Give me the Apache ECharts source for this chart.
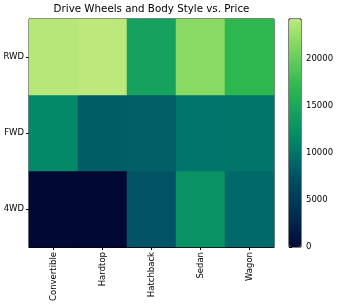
<!DOCTYPE html>
<html><head><meta charset="utf-8">
<script src="https://cdn.jsdelivr.net/npm/echarts@6/dist/echarts.min.js"></script>
<style>html,body{margin:0;padding:0;background:#fff}#c{width:339px;height:306px}</style>
</head><body><div id="c"></div>
<script>
const bodyStyles = ['Convertible','Hardtop','Hatchback','Sedan','Wagon'];
const driveWheels = ['4WD','FWD','RWD'];
const price4wd = [0, 0, 7603.0, 12647.33, 9095.75];
const priceFwd = [11595.0, 8249.0, 8396.39, 9811.8, 9997.33];
const priceRwd = [23949.6, 24202.71, 14337.78, 21711.83, 16994.22];
const colorbarTicks = [0, 5000, 10000, 15000, 20000];
const cmap = ['#000833','#00234a','#003a58','#004f64','#00716a','#058f67','#18a25d','#2db74f','#5ac95a','#89da64','#bce87c'];

const rowsData = [price4wd, priceFwd, priceRwd];
const data = [];
rowsData.forEach((row, r) => row.forEach((v, c) => data.push([c, r, v])));
const vmax = Math.max(...data.map(d => d[2]));
const font = 'DejaVu Sans';

const chart = echarts.init(document.getElementById('c'), null, {renderer: 'canvas'});
chart.setOption({
  animation: false,
  title: {
    text: 'Drive Wheels and Body Style vs. Price',
    left: 151.5, top: 4, textAlign: 'center', padding: 0,
    textStyle: {fontFamily: font, fontSize: 10.3, fontWeight: 'normal', color: '#000'}
  },
  grid: [
    {left: 29, top: 19, width: 245, height: 228, show: true, borderColor: '#000', borderWidth: 1, backgroundColor: 'transparent'},
    {left: 289, top: 19, width: 12, height: 228, show: true, borderColor: '#000', borderWidth: 1, backgroundColor: 'transparent'}
  ],
  xAxis: [
    {type: 'category', gridIndex: 0, data: bodyStyles,
     axisLine: {show: true, lineStyle: {color: '#000'}},
     axisTick: {show: true, alignWithLabel: true, length: 3, lineStyle: {color: '#000'}},
     axisLabel: {rotate: 90, margin: 5, fontFamily: font, fontSize: 8.5, color: '#000'},
     splitLine: {show: false}},
    {type: 'value', gridIndex: 1, show: false, min: 0, max: 1}
  ],
  yAxis: [
    {type: 'category', gridIndex: 0, data: driveWheels,
     axisLine: {show: true, lineStyle: {color: '#000'}},
     axisTick: {show: true, alignWithLabel: true, length: 3, lineStyle: {color: '#000'}},
     axisLabel: {margin: 5, fontFamily: font, fontSize: 8.5, color: '#000'},
     splitLine: {show: false}},
    {type: 'value', gridIndex: 1, position: 'right', min: 0, max: vmax,
     axisLine: {show: false},
     axisTick: {show: true, length: 3, customValues: colorbarTicks, lineStyle: {color: '#000'}},
     axisLabel: {margin: 5, customValues: colorbarTicks, formatter: v => String(Math.round(v)), fontFamily: font, fontSize: 8.5, color: '#000'},
     splitLine: {show: false}}
  ],
  visualMap: {
    type: 'continuous', min: 0, max: vmax, seriesIndex: 0,
    calculable: false, orient: 'vertical', left: 289, top: 19, padding: 0,
    itemWidth: 12, itemHeight: 228, hoverLink: false,
    inRange: {color: cmap}
  },
  series: [{
    type: 'heatmap', xAxisIndex: 0, yAxisIndex: 0, data: data,
    itemStyle: {borderWidth: 0}, emphasis: {disabled: true}
  }]
});
</script></body></html>
